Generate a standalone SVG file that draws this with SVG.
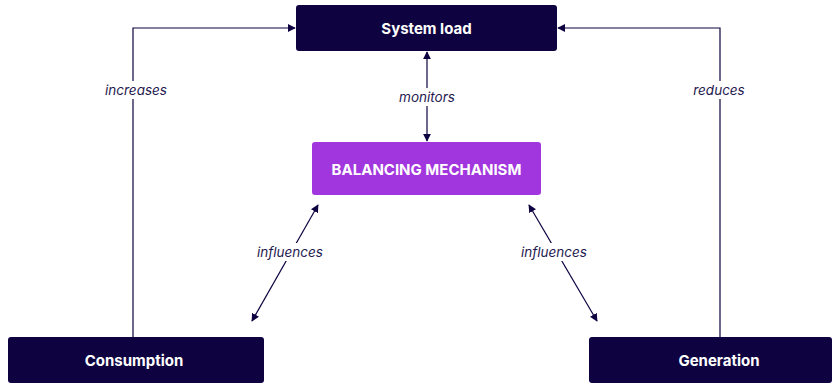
<svg xmlns="http://www.w3.org/2000/svg" width="840" height="385" viewBox="0 0 840 385">
  <style>
    .dark { fill: #0e0340; }
    .accent { fill: #a236de; }
    .title { font-family: Inter, "Noto Sans", "DejaVu Sans", sans-serif; font-weight: 700; font-size: 15px; fill: #ffffff; text-anchor: middle; dominant-baseline: central; }
    .edge { stroke: #0e0340; stroke-width: 1.2; fill: none; }
    .label { font-family: Inter, "Noto Sans", "DejaVu Sans", sans-serif; font-style: italic; font-size: 13.5px; fill: #1f1a4f; text-anchor: middle; dominant-baseline: central; }
    .halo { fill: #ffffff; }
  </style>
  <defs>
    <marker id="arrowEnd" viewBox="0 0 10 10" refX="9" refY="5" markerWidth="8" markerHeight="8" markerUnits="userSpaceOnUse" orient="auto">
      <path d="M0,0 L10,5 L0,10 z" fill="#0e0340"/>
    </marker>
    <marker id="arrowStart" viewBox="0 0 10 10" refX="1" refY="5" markerWidth="8" markerHeight="8" markerUnits="userSpaceOnUse" orient="auto">
      <path d="M10,0 L0,5 L10,10 z" fill="#0e0340"/>
    </marker>
  </defs>

  <g id="connectors">
    <!-- consumption -> system load -->
    <path class="edge" d="M133,337 V28 H295" marker-end="url(#arrowEnd)"/>
    <rect class="halo" x="100" y="81" width="72" height="18"/>
    <text class="label" x="136" y="90">increases</text>

    <!-- generation -> system load -->
    <path class="edge" d="M720,337 V28 H558" marker-end="url(#arrowEnd)"/>
    <rect class="halo" x="690" y="81" width="60" height="18"/>
    <text class="label" x="719" y="90">reduces</text>

    <!-- system load <-> balancing mechanism -->
    <path class="edge" d="M427,52 V141" marker-start="url(#arrowStart)" marker-end="url(#arrowEnd)"/>
    <rect class="halo" x="392" y="88" width="70" height="18"/>
    <text class="label" x="427" y="97">monitors</text>

    <!-- balancing mechanism <-> consumption -->
    <path class="edge" d="M318,205 L252,321" marker-start="url(#arrowStart)" marker-end="url(#arrowEnd)"/>
    <rect class="halo" x="250" y="243" width="82" height="18"/>
    <text class="label" x="290" y="252">influences</text>

    <!-- balancing mechanism <-> generation -->
    <path class="edge" d="M529,205 L597,321" marker-start="url(#arrowStart)" marker-end="url(#arrowEnd)"/>
    <rect class="halo" x="513" y="243" width="82" height="18"/>
    <text class="label" x="554" y="252">influences</text>
  </g>

  <g id="system-load">
    <rect class="dark" x="296" y="5" width="261" height="46" rx="3"/>
    <text class="title" x="426.5" y="28">System load</text>
  </g>

  <g id="balancing-mechanism">
    <rect class="accent" x="312" y="142" width="229" height="53" rx="3"/>
    <text class="title" x="426.5" y="169">BALANCING MECHANISM</text>
  </g>

  <g id="consumption">
    <rect class="dark" x="8" y="337" width="256" height="46" rx="3"/>
    <text class="title" x="134" y="360">Consumption</text>
  </g>

  <g id="generation">
    <rect class="dark" x="589" y="337" width="243" height="46" rx="3"/>
    <text class="title" x="719" y="360">Generation</text>
  </g>
</svg>
